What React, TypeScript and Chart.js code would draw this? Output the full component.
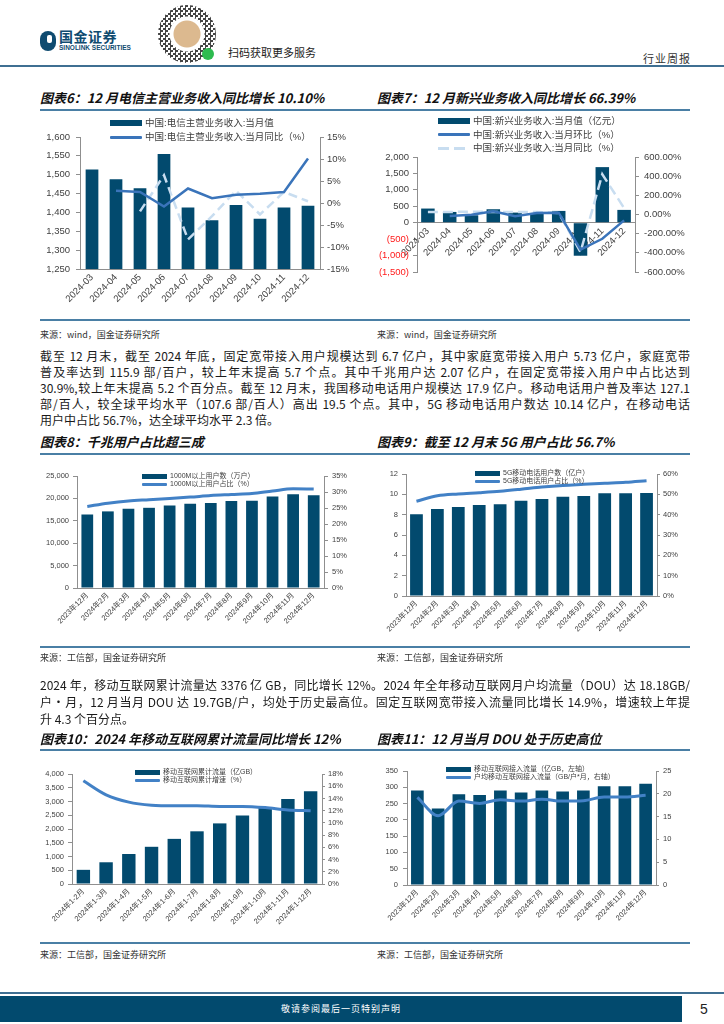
import React, { useEffect, useRef } from 'react';
import { Chart, registerables } from 'chart.js';
Chart.register(...registerables);

const FONT = "'Liberation Sans','Noto Sans CJK SC',sans-serif";
const CJK = "'Noto Sans CJK SC','Liberation Sans',sans-serif";
const BAR = '#024a6e';
const LINE = '#4281c6';
const LINE6 = '#3a74ba';
const LIGHT = '#c8ddf0';
const AXIS = '#8f8f8f';
const TICK = '#3f3f3f';
const RULE = '#4a7fa5';

Chart.defaults.font.family = FONT;

// ---------- Chart 6 ----------
const months6 = ['2024-03', '2024-04', '2024-05', '2024-06', '2024-07', '2024-08', '2024-09', '2024-10', '2024-11', '2024-12'];
const telecomRevenue = [1514, 1488, 1464, 1555, 1413, 1379, 1420, 1383, 1413, 1418];
const telecomYoY = [null, 2.8, 2.5, -0.8, 3.3, 1.1, 1.9, 2.1, 2.5, 10.1];
const telecomAux = [null, null, -1.9, 6.3, -8.3, -3.0, 2.8, -2.6, 2.5, 0.4];

// ---------- Chart 7 ----------
const emergingRevenue = [431, 328, 226, 410, 308, 287, 359, -1005, 1692, 390];
const emergingMoM = [null, -16, -2, 33, -19, 16, 19, -367, -253, -61];
const emergingYoY = [26, 26, 30, 26, 26, 26, 16, -391, 420, 66.39];

// ---------- Chart 8 / 9 / 11 categories ----------
const months12 = ['2023年12月', '2024年2月', '2024年3月', '2024年4月', '2024年5月', '2024年6月', '2024年7月', '2024年8月', '2024年9月', '2024年10月', '2024年11月', '2024年12月'];
const gigabitUsers = [16400, 17100, 17700, 17900, 18400, 18800, 19000, 19400, 19500, 20400, 20900, 20700];
const gigabitShare = [25.5, 26.5, 27.2, 27.6, 28.0, 28.4, 28.9, 29.2, 29.5, 30.3, 31.0, 30.9];

const users5G = [8.05, 8.56, 8.75, 8.95, 9.02, 9.38, 9.54, 9.77, 9.84, 10.1, 10.1, 10.14];
const share5G = [46.6, 49.3, 50.2, 50.8, 51.5, 52.5, 53.6, 54.4, 54.9, 55.4, 55.9, 56.7];

// ---------- Chart 10 ----------
const periods10 = ['2024年1-2月', '2024年1-3月', '2024年1-4月', '2024年1-5月', '2024年1-6月', '2024年1-7月', '2024年1-8月', '2024年1-9月', '2024年1-10月', '2024年1-11月', '2024年1-12月'];
const cumTraffic = [515, 790, 1090, 1353, 1641, 1916, 2204, 2491, 2790, 3090, 3376];
const cumGrowth = [16.9, 14.6, 13.4, 12.9, 12.8, 12.8, 12.7, 12.7, 12.5, 12.1, 12.0];

// ---------- Chart 11 ----------
const accessTraffic = [290, 235, 279, 276, 290, 284, 290, 287, 290, 303, 303, 311];
const douValues = [19.2, 15.2, 18.4, 17.9, 18.7, 18.4, 18.8, 18.4, 18.5, 19.3, 19.3, 19.7];

// ---------- Text ----------
const para1 = [
  '截至 12 月末，截至 2024 年底，固定宽带接入用户规模达到 6.7 亿户，其中家庭宽带接入用户 5.73 亿户，家庭宽带',
  '普及率达到 115.9 部/百户，较上年末提高 5.7 个点。其中千兆用户达 2.07 亿户，在固定宽带接入用户中占比达到',
  '30.9%,较上年末提高 5.2 个百分点。截至 12 月末，我国移动电话用户规模达 17.9 亿户。移动电话用户普及率达 127.1',
  '部/百人，较全球平均水平（107.6 部/百人）高出 19.5 个点。其中，5G 移动电话用户数达 10.14 亿户，在移动电话',
  '用户中占比 56.7%，达全球平均水平 2.3 倍。',
];
const para2 = [
  '2024 年，移动互联网累计流量达 3376 亿 GB，同比增长 12%。2024 年全年移动互联网月户均流量（DOU）达 18.18GB/',
  '户•月，12 月当月 DOU 达 19.7GB/户，均处于历史最高位。固定互联网宽带接入流量同比增长 14.9%，增速较上年提',
  '升 4.3 个百分点。',
];

const comma = (v: number) => Math.abs(v).toLocaleString('en-US');

function yScale(o: any) {
  return {
    type: 'linear',
    position: o.pos,
    min: o.min,
    max: o.max,
    ticks: {
      stepSize: o.step,
      autoSkip: false,
      callback: (v: any) => o.fmt(Number(v)),
      font: { size: o.size, family: FONT },
      color: o.color || TICK,
      padding: o.pad,
    },
    grid: { display: true, drawOnChartArea: false, drawTicks: true, tickLength: o.tl, color: AXIS, lineWidth: 1 },
    border: { display: true, color: AXIS, width: 1 },
    afterFit: (s: any) => { s.width = o.width; },
  };
}

function xScale(size: number, height: number, extra: any = {}) {
  return {
    type: 'category',
    grid: { display: false, drawTicks: false },
    border: { display: true, color: AXIS, width: 1 },
    ticks: { minRotation: 45, maxRotation: 45, autoSkip: false, font: { size, family: FONT }, color: TICK, padding: 3 },
    afterFit: (s: any) => { s.height = height; },
    ...extra,
  };
}

function baseOptions(top: number, bottom: number, scales: any) {
  return {
    responsive: false,
    animation: false,
    devicePixelRatio: 1,
    events: [],
    layout: { padding: { top, bottom, left: 0, right: 0 } },
    plugins: { legend: { display: false }, tooltip: { enabled: false }, title: { display: false } },
    scales,
  };
}

function cfg6(): any {
  return {
    type: 'bar',
    data: {
      labels: months6,
      datasets: [
        { type: 'line', label: '中国:电信主营业务收入:当月同比（%）', data: telecomYoY, yAxisID: 'y1', borderColor: LINE6, borderWidth: 2.5, pointRadius: 0, tension: 0, order: 1 },
        { type: 'line', label: '中国:电信主营业务收入:当月环比（%）', data: telecomAux, yAxisID: 'y1', borderColor: LIGHT, borderWidth: 2.5, borderDash: [9, 5], pointRadius: 0, tension: 0, order: 2 },
        { type: 'bar', label: '中国:电信主营业务收入:当月值', data: telecomRevenue, yAxisID: 'y', backgroundColor: BAR, categoryPercentage: 1, barPercentage: 0.53, order: 3 },
      ],
    },
    options: baseOptions(25, 0, {
      x: xScale(9.5, 43),
      y: yScale({ pos: 'left', min: 1250, max: 1600, step: 50, fmt: comma, width: 40, size: 9.5, pad: 6, tl: 4 }),
      y1: yScale({ pos: 'right', min: -15, max: 15, step: 5, fmt: (v: number) => v + '%', width: 30, size: 9.5, pad: 3, tl: 4 }),
    }),
  };
}

function cfg7(): any {
  return {
    type: 'bar',
    data: {
      labels: months6,
      datasets: [
        { type: 'line', label: '中国:新兴业务收入:当月环比（%）', data: emergingMoM, yAxisID: 'y1', borderColor: LINE6, borderWidth: 2.5, pointRadius: 0, tension: 0, order: 1 },
        { type: 'line', label: '中国:新兴业务收入:当月同比（%）', data: emergingYoY, yAxisID: 'y1', borderColor: LIGHT, borderWidth: 2.5, borderDash: [10, 5], pointRadius: 0, tension: 0, order: 2 },
        { type: 'bar', label: '中国:新兴业务收入:当月值（亿元）', data: emergingRevenue, yAxisID: 'y', backgroundColor: BAR, categoryPercentage: 1, barPercentage: 0.62, order: 3 },
      ],
    },
    options: baseOptions(45, 40, {
      x: xScale(9.5, 40, { position: { y: 0 } }),
      y: yScale({
        pos: 'left', min: -1500, max: 2000, step: 500,
        fmt: (v: number) => (v < 0 ? '(' + comma(v) + ')' : comma(v)),
        color: (ctx: any) => (ctx.tick && ctx.tick.value < 0 ? '#ff1a1a' : TICK),
        width: 52, size: 9.5, pad: 4, tl: 4,
      }),
      y1: yScale({ pos: 'right', min: -600, max: 600, step: 200, fmt: (v: number) => v.toFixed(2) + '%', width: 70, size: 9.5, pad: 5, tl: 4 }),
    }),
  };
}

function comboCfg(labels: string[], bars: number[], line: number[], barLabel: string, lineLabel: string, barPct: number, pad: [number, number], xH: number, yL: any, yR: any): any {
  return {
    type: 'bar',
    data: {
      labels,
      datasets: [
        { type: 'line', label: lineLabel, data: line, yAxisID: 'y1', borderColor: LINE, borderWidth: 3, pointRadius: 0, tension: 0.4, cubicInterpolationMode: 'monotone', order: 1 },
        { type: 'bar', label: barLabel, data: bars, yAxisID: 'y', backgroundColor: BAR, categoryPercentage: 1, barPercentage: barPct, order: 2 },
      ],
    },
    options: baseOptions(pad[0], pad[1], {
      x: xScale(7.5, xH),
      y: yScale({ pos: 'left', size: 7.5, ...yL }),
      y1: yScale({ pos: 'right', size: 7.5, ...yR }),
    }),
  };
}

const pct = (v: number) => v + '%';

function ChartCanvas({ x, y, w, h, make }: { x: number; y: number; w: number; h: number; make: () => any }) {
  const ref = useRef<HTMLCanvasElement>(null);
  useEffect(() => {
    const chart = new Chart(ref.current as HTMLCanvasElement, make());
    return () => chart.destroy();
  }, []);
  return <canvas ref={ref} width={w} height={h} style={{ position: 'absolute', left: x, top: y, width: w, height: h }} />;
}

type LegendItem = { type: 'bar' | 'line' | 'dash'; color: string; label: string };

function Legend({ x, y, rowH, size, sw, barH, items }: { x: number; y: number; rowH: number; size: number; sw: number; barH: number; items: LegendItem[] }) {
  return (
    <div style={{ position: 'absolute', left: x, top: y - rowH / 2 }}>
      {items.map((it, i) => {
        let sw2: any;
        if (it.type === 'bar') sw2 = { height: barH, background: it.color };
        else if (it.type === 'line') sw2 = { height: 3, background: it.color, borderRadius: 1 };
        else sw2 = { height: 3, background: `repeating-linear-gradient(90deg, ${it.color} 0 11px, transparent 11px 16px)` };
        return (
          <div key={i} style={{ position: 'absolute', left: 0, top: i * rowH, height: rowH, display: 'flex', alignItems: 'center', whiteSpace: 'nowrap' }}>
            <span style={{ display: 'inline-block', width: sw, ...sw2 }} />
            <span style={{ marginLeft: 3, fontSize: size, lineHeight: rowH + 'px', color: '#404040', fontFamily: FONT }}>{it.label}</span>
          </div>
        );
      })}
    </div>
  );
}

function Rule({ y, x1 = 40, x2 = 690, h = 2, color = RULE }: { y: number; x1?: number; x2?: number; h?: number; color?: string }) {
  return <div style={{ position: 'absolute', left: x1, top: y - h / 2, width: x2 - x1, height: h, background: color }} />;
}

function Title({ x, y, text }: { x: number; y: number; text: string }) {
  return (
    <div style={{ position: 'absolute', left: x, top: y - 10, height: 20, lineHeight: '20px', fontSize: 13, fontWeight: 700, fontStyle: 'italic', fontFamily: CJK, color: '#111', whiteSpace: 'nowrap' }}>{text}</div>
  );
}

function Source({ x, y, text }: { x: number; y: number; text: string }) {
  return <div style={{ position: 'absolute', left: x, top: y - 7, height: 14, lineHeight: '14px', fontSize: 9, fontFamily: CJK, color: '#333', whiteSpace: 'nowrap' }}>{text}</div>;
}

function Para({ lines, y, lh }: { lines: string[]; y: number; lh: number }) {
  return (
    <>
      {lines.map((t, i) => (
        <div key={i} style={{
          position: 'absolute', left: 40, width: 650, top: y + i * lh - lh / 2, height: lh, lineHeight: lh + 'px',
          fontSize: 12, fontFamily: CJK, color: '#1a1a1a', whiteSpace: 'nowrap',
          textAlign: 'justify', textAlignLast: i === lines.length - 1 ? 'left' : 'justify',
        } as any}>{t}</div>
      ))}
    </>
  );
}

export default function App() {
  useEffect(() => { document.body.style.margin = '0'; }, []);
  return (
    <div style={{ position: 'absolute', left: 0, top: 0, width: 724, height: 1024, background: '#fff', overflow: 'hidden', fontFamily: CJK }}>
      {/* Header */}
      <div style={{ position: 'absolute', left: 40, top: 31, width: 16, height: 20, background: '#0f4b70', borderRadius: '8px 8px 8px 8px' }} />
      <div style={{ position: 'absolute', left: 47, top: 35, width: 5, height: 8, background: '#fff', borderRadius: 2 }} />
      <div style={{ position: 'absolute', left: 59, top: 28, fontSize: 14, fontWeight: 700, color: '#0f4b70', lineHeight: '16px', letterSpacing: 0.5 }}>国金证券</div>
      <div style={{ position: 'absolute', left: 59, top: 44, fontSize: 6.5, fontWeight: 700, color: '#0f4b70', lineHeight: '8px', fontFamily: FONT }}>SINOLINK SECURITIES</div>
      <div style={{
        position: 'absolute', left: 158, top: 5, width: 58, height: 58, borderRadius: '50%',
        background: 'radial-gradient(circle, #dcb98f 0 13px, #fff 14px 17px, transparent 18px), repeating-conic-gradient(#444 0 25%, #fff 0 50%) 0 0 / 5px 5px',
      }} />
      <div style={{ position: 'absolute', left: 202, top: 48, width: 12, height: 12, borderRadius: '50%', background: '#2dbb4f' }} />
      <div style={{ position: 'absolute', left: 228, top: 45, fontSize: 11, color: '#222', lineHeight: '14px' }}>扫码获取更多服务</div>
      <div style={{ position: 'absolute', left: 643, top: 51, fontSize: 11, color: '#333', lineHeight: '14px', letterSpacing: 1 }}>行业周报</div>
      <Rule y={66} x1={0} x2={724} h={2} color="#3f6f92" />

      {/* Row 1 */}
      <Title x={40} y={98} text="图表6：12 月电信主营业务收入同比增长 10.10%" />
      <Title x={377} y={98} text="图表7：12 月新兴业务收入同比增长 66.39%" />
      <Rule y={110} />
      <ChartCanvas x={40} y={112} w={310} h={200} make={cfg6} />
      <Legend x={110} y={123} rowH={14} size={9.5} sw={32} barH={6} items={[
        { type: 'bar', color: BAR, label: '中国:电信主营业务收入:当月值' },
        { type: 'line', color: LINE6, label: '中国:电信主营业务收入:当月同比（%）' },
      ]} />
      <ChartCanvas x={365} y={112} w={340} h={200} make={cfg7} />
      <Legend x={438} y={121} rowH={13.5} size={9.5} sw={32} barH={6} items={[
        { type: 'bar', color: BAR, label: '中国:新兴业务收入:当月值（亿元）' },
        { type: 'line', color: LINE6, label: '中国:新兴业务收入:当月环比（%）' },
        { type: 'dash', color: LIGHT, label: '中国:新兴业务收入:当月同比（%）' },
      ]} />
      <Rule y={320} />
      <Source x={40} y={335} text="来源：wind，国金证券研究所" />
      <Source x={377} y={335} text="来源：wind，国金证券研究所" />

      <Para lines={para1} y={356} lh={16} />

      {/* Row 2 */}
      <Title x={40} y={442} text="图表8：千兆用户占比超三成" />
      <Title x={377} y={442} text="图表9：截至 12 月末 5G 用户占比 56.7%" />
      <Rule y={454} />
      <ChartCanvas x={20} y={458} w={330} h={190} make={() => comboCfg(months12, gigabitUsers, gigabitShare, '1000M以上用户数（万户）', '1000M以上用户占比（%）', 0.57, [18, 0], 60,
        { min: 0, max: 25000, step: 5000, fmt: comma, width: 57, pad: 4, tl: 4 },
        { min: 0, max: 35, step: 5, fmt: pct, width: 26, pad: 4, tl: 4 })} />
      <Legend x={142} y={476} rowH={8} size={7} sw={25} barH={5} items={[
        { type: 'bar', color: BAR, label: '1000M以上用户数（万户）' },
        { type: 'line', color: LINE, label: '1000M以上用户占比（%）' },
      ]} />
      <ChartCanvas x={365} y={458} w={340} h={190} make={() => comboCfg(months12, users5G, share5G, '5G移动电话用户数（亿户）', '5G移动电话用户占比（%）', 0.61, [16, 0], 52,
        { min: 0, max: 12, step: 2, fmt: (v: number) => String(v), width: 41, pad: 4, tl: 4 },
        { min: 0, max: 60, step: 10, fmt: pct, width: 48, pad: 3, tl: 3 })} />
      <Legend x={475} y={473} rowH={8} size={7} sw={25} barH={5} items={[
        { type: 'bar', color: BAR, label: '5G移动电话用户数（亿户）' },
        { type: 'line', color: LINE, label: '5G移动电话用户占比（%）' },
      ]} />
      <Rule y={647} />
      <Source x={40} y={658} text="来源：工信部，国金证券研究所" />
      <Source x={377} y={658} text="来源：工信部，国金证券研究所" />

      <Para lines={para2} y={684} lh={17} />

      {/* Row 3 */}
      <Title x={40} y={739} text="图表10：2024 年移动互联网累计流量同比增长 12%" />
      <Title x={377} y={739} text="图表11：12 月当月 DOU 处于历史高位" />
      <Rule y={750} />
      <ChartCanvas x={20} y={760} w={330} h={180} make={() => comboCfg(periods10, cumTraffic, cumGrowth, '移动互联网累计流量（亿GB）', '移动互联网累计增速（%）', 0.59, [14, 0], 56,
        { min: 0, max: 4000, step: 500, fmt: comma, width: 52, pad: 4, tl: 4 },
        { min: 0, max: 18, step: 2, fmt: pct, width: 28, pad: 3, tl: 3 })} />
      <Legend x={135} y={772} rowH={8} size={7} sw={25} barH={5} items={[
        { type: 'bar', color: BAR, label: '移动互联网累计流量（亿GB）' },
        { type: 'line', color: LINE, label: '移动互联网累计增速（%）' },
      ]} />
      <ChartCanvas x={365} y={760} w={340} h={180} make={() => comboCfg(months12, accessTraffic, douValues, '移动互联网接入流量（亿GB，左轴）', '户均移动互联网接入流量（GB/户*月，右轴）', 0.61, [11, 0], 55,
        { min: 0, max: 350, step: 50, fmt: (v: number) => String(v), width: 42, pad: 5, tl: 4 },
        { min: 0, max: 25, step: 5, fmt: (v: number) => String(v), width: 49, pad: 4, tl: 3 })} />
      <Legend x={446} y={769} rowH={8} size={7} sw={25} barH={5} items={[
        { type: 'bar', color: BAR, label: '移动互联网接入流量（亿GB，左轴）' },
        { type: 'line', color: LINE, label: '户均移动互联网接入流量（GB/户*月，右轴）' },
      ]} />
      <Rule y={943} />
      <Source x={40} y={955} text="来源：工信部，国金证券研究所" />
      <Source x={377} y={955} text="来源：工信部，国金证券研究所" />

      {/* Footer */}
      <Rule y={993} x1={0} x2={724} h={1.5} color="#3f6f92" />
      <div style={{ position: 'absolute', left: 0, top: 996, width: 682, height: 26, background: '#024a6e' }} />
      <div style={{ position: 'absolute', left: 0, top: 996, width: 682, height: 26, lineHeight: '26px', textAlign: 'center', fontSize: 9, color: '#fff', letterSpacing: 1 }}>敬请参阅最后一页特别声明</div>
      <div style={{ position: 'absolute', left: 700, top: 1000, fontSize: 14, lineHeight: '18px', color: '#222', fontFamily: FONT }}>5</div>
    </div>
  );
}
